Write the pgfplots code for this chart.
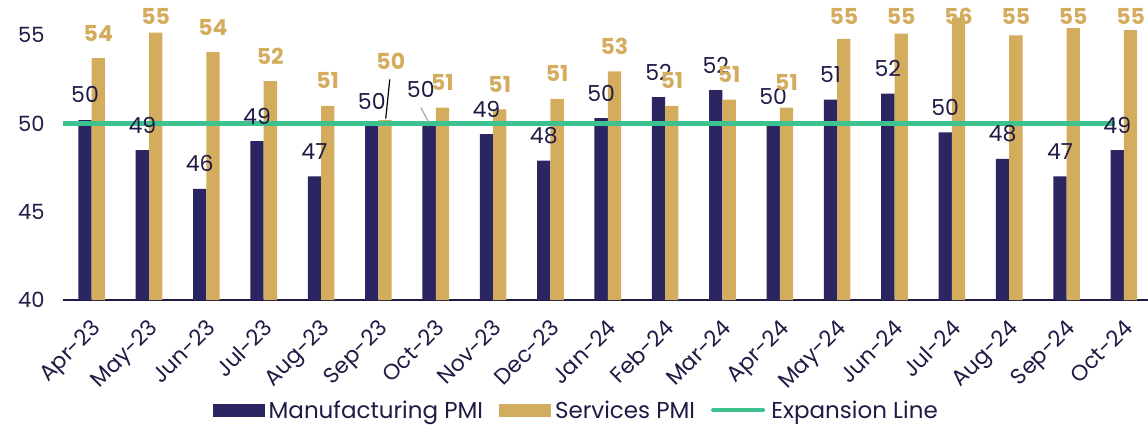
\documentclass[border=0pt]{standalone}
\usepackage{pgfplots}
\pgfplotsset{compat=1.18}
\usepackage{pgfplotstable}
\usepackage{fontspec}
\setmainfont{Poppins}
\definecolor{navy}{HTML}{2B2661}
\definecolor{gold}{HTML}{D4AC5E}
\definecolor{pmigreen}{HTML}{3CC18F}
\definecolor{txt}{HTML}{1E1B45}

\pgfplotstableread{
x m s mdx mdy sdx sdy ml sl
0 50.2 53.7 0 0 0 0 50 54
1 48.5 55.15 0 0 0 0 49 55
2 46.3 54.05 0 0 0 0 46 54
3 49.0 52.4 0 0 0 0 49 52
4 47.0 51.0 0 0 0 0 47 51
5 49.85 50.2 0 0 0.1 1.9 50 50
6 50.0 50.9 -0.145 0.5 0 0 50 51
7 49.4 50.8 0 0 0 0 49 51
8 47.9 51.4 0 0 0 0 48 51
9 50.3 52.95 0 0 0 0 50 53
10 51.5 51.0 0 0 0 0 52 51
11 51.9 51.35 0 0 0 0 52 51
12 50.1 50.9 0 0 0 0 50 51
13 51.35 54.8 0 0 0 0 51 55
14 51.7 55.1 0 0 0 0 52 55
15 49.5 56.0 0 0 0 0 50 56
16 48.0 55.0 0 0 0 0 48 55
17 47.0 55.4 0 0 0 0 47 55
18 48.5 55.3 0 0 0 0 49 55
}\data

\begin{document}
\begin{tikzpicture}
\begin{axis}[
  name=ax,
  scale only axis, width=1085pt, height=300pt,
  xmin=-0.5, xmax=18.42, ymin=40, ymax=57,
  axis lines*=left,
  y axis line style={draw=none},
  x axis line style={draw=txt, line width=1.2pt},
  xtick={0,...,18},
  xticklabels={Apr-23,May-23,Jun-23,Jul-23,Aug-23,Sep-23,Oct-23,Nov-23,Dec-23,Jan-24,Feb-24,Mar-24,Apr-24,May-24,Jun-24,Jul-24,Aug-24,Sep-24,Oct-24},
  ytick={40,45,50,55},
  major tick length=0pt,
  tick style={draw=none},
  tick label style={text=txt},
  /pgf/number format/assume math mode=true,
  yticklabel style={font=\fontsize{21}{21}\selectfont, xshift=-15pt},
  xticklabel style={font=\fontsize{22}{22}\selectfont, xshift=-1.5pt, yshift=-13pt, rotate=45, anchor=north east},
  legend style={at={(0.473,-0.367)}, anchor=center, draw=none, fill=none,
    legend columns=3, font=\fontsize{23}{23}\selectfont, text=txt,
    /tikz/every even column/.append style={column sep=14pt}},
  legend cell align=left,
]
\addplot[ybar, bar width=13.3pt, bar shift=-6.65pt, fill=navy, draw=none,
  legend image code/.code={\fill[navy] (0pt,-6.5pt) rectangle (52pt,6.5pt); \path (54pt,0pt);}]
  table[x=x, y=m] {\data};
\addlegendentry{Manufacturing PMI}
\addplot[ybar, bar width=13.3pt, bar shift=6.65pt, fill=gold, draw=none,
  legend image code/.code={\fill[gold] (0pt,-6.5pt) rectangle (52pt,6.5pt); \path (54pt,0pt);}]
  table[x=x, y=s] {\data};
\addlegendentry{Services PMI}
\addplot[pmigreen, line width=4.5pt,
  legend image code/.code={\draw[pmigreen, line width=4pt, line cap=round] (2pt,0pt) -- (52pt,0pt); \path (56pt,0pt);}]
  coordinates {(-0.5,50) (17.84,50)};
\addlegendentry{Expansion Line}
% leader lines
\addplot[forget plot, black, line width=1.2pt] coordinates {(5.198,52.5) (5.128,50.28)};
\addplot[forget plot, gray!70, line width=1.2pt] coordinates {(5.739,50.91) (5.878,50.06)};
% labels
\addplot[forget plot, only marks, mark=*, mark size=0pt,
  scatter/use mapped color={draw opacity=0, fill opacity=0},
  nodes near coords, point meta=explicit symbolic,
  nodes near coords style={anchor=center, inner sep=0pt, text=txt, font=\fontsize{22}{22}\selectfont}]
  table[x expr=\thisrow{x}-0.116+\thisrow{mdx}, y expr={min(\thisrow{m}+1.42,56.07)+\thisrow{mdy}}, meta=ml] {\data};
\addplot[forget plot, only marks, mark=*, mark size=0pt,
  scatter/use mapped color={draw opacity=0, fill opacity=0},
  nodes near coords, point meta=explicit symbolic,
  nodes near coords style={anchor=center, inner sep=0pt, text=gold, font=\fontsize{22}{22}\selectfont\bfseries}]
  table[x expr=\thisrow{x}+0.116+\thisrow{sdx}, y expr={min(\thisrow{s}+1.42,56.07)+\thisrow{sdy}}, meta=sl] {\data};
\end{axis}
\pgfresetboundingbox
\path[use as bounding box] ([xshift=-63pt,yshift=-126pt]ax.south west) rectangle (ax.north east);
\end{tikzpicture}
\end{document}
